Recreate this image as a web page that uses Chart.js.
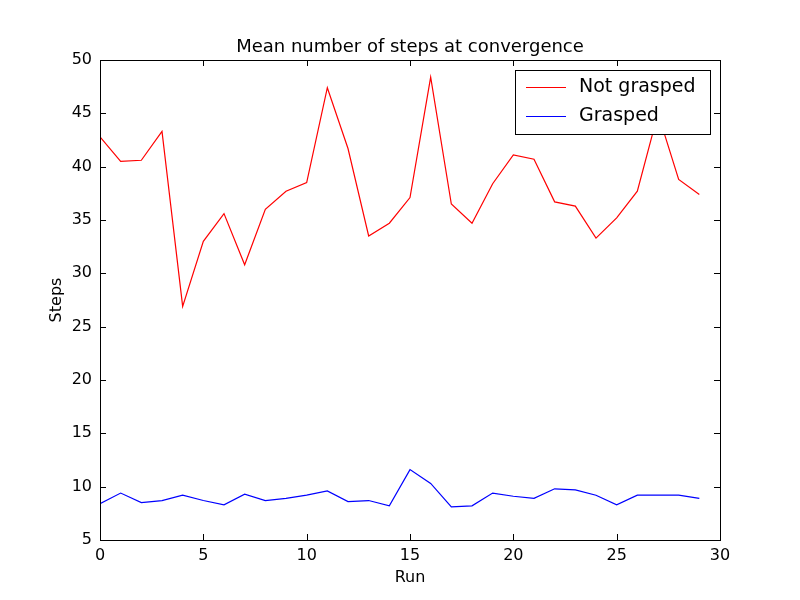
<!DOCTYPE html>
<html>
<head>
<script src="https://cdn.jsdelivr.net/npm/chart.js@4"></script>
<style>body{margin:0;background:#fff}#wrap{width:800px;height:600px}</style>
</head>
<body>
<div id="wrap"><canvas id="c" width="800" height="600"></canvas></div>
<script>
// Data
const runs = [...Array(30).keys()];
const notGrasped = [42.8,40.5,40.6,43.3,26.9,33.0,35.6,30.8,36.0,37.7,38.5,47.4,41.7,33.5,34.7,37.1,48.4,36.5,34.7,38.4,41.1,40.7,36.7,36.3,33.3,35.2,37.7,45.0,38.8,37.4];
const grasped = [8.4,9.4,8.5,8.7,9.2,8.7,8.3,9.3,8.7,8.9,9.2,9.6,8.6,8.7,8.2,11.6,10.3,8.1,8.2,9.4,9.1,8.9,9.8,9.7,9.2,8.3,9.2,9.2,9.2,8.9];
const FONT = 'DejaVu Sans';

// Frame, inward ticks, titles and legend like matplotlib classic
const decor = {
    id: 'decor',
    afterDraw(chart) {
        const ctx = chart.ctx, a = chart.chartArea;
        const xs = chart.scales.x, ys = chart.scales.y;
        ctx.save();
        ctx.strokeStyle = '#000';
        ctx.lineWidth = 1;
        ctx.strokeRect(a.left + 0.5, a.top + 0.5, a.right - a.left, a.bottom - a.top);
        ctx.beginPath();
        for (let v = 0; v <= 30; v += 5) {
            const p = Math.round(xs.getPixelForValue(v)) + 0.5;
            ctx.moveTo(p, a.bottom); ctx.lineTo(p, a.bottom - 6);
            ctx.moveTo(p, a.top); ctx.lineTo(p, a.top + 6);
        }
        for (let v = 5; v <= 50; v += 5) {
            const p = Math.round(ys.getPixelForValue(v)) + 0.5;
            ctx.moveTo(a.left, p); ctx.lineTo(a.left + 6, p);
            ctx.moveTo(a.right, p); ctx.lineTo(a.right - 6, p);
        }
        ctx.stroke();

        ctx.fillStyle = '#000';
        ctx.font = '18px ' + FONT;
        ctx.textAlign = 'center';
        ctx.textBaseline = 'bottom';
        ctx.fillText('Mean number of steps at convergence', (a.left + a.right) / 2, a.top - 4);

        ctx.font = '16px ' + FONT;
        ctx.textBaseline = 'middle';
        ctx.fillText('Run', (a.left + a.right) / 2, 578);
        ctx.save();
        ctx.translate(57, (a.top + a.bottom) / 2);
        ctx.rotate(-Math.PI / 2);
        ctx.fillText('Steps', 0, 0);
        ctx.restore();

        // legend
        const lx = 515, ly = 70, lw = 195, lh = 64;
        ctx.fillStyle = '#fff';
        ctx.fillRect(lx, ly, lw, lh);
        ctx.strokeRect(lx + 0.5, ly + 0.5, lw, lh);
        const items = [['Not grasped', 'red'], ['Grasped', 'blue']];
        ctx.font = '19px ' + FONT;
        ctx.textAlign = 'left';
        items.forEach((it, i) => {
            const y = ly + 17 + i * 29;
            ctx.strokeStyle = it[1];
            ctx.beginPath(); ctx.moveTo(lx + 11, y + 0.5); ctx.lineTo(lx + 51, y + 0.5); ctx.stroke();
            ctx.fillStyle = '#000';
            ctx.fillText(it[0], lx + 64, y);
        });
        ctx.restore();
    }
};

new Chart(document.getElementById('c'), {
    type: 'line',
    data: {
        datasets: [
            { label: 'Not grasped', data: runs.map((r, i) => ({ x: r, y: notGrasped[i] })), borderColor: 'red', borderWidth: 1.2, pointRadius: 0, tension: 0 },
            { label: 'Grasped', data: runs.map((r, i) => ({ x: r, y: grasped[i] })), borderColor: 'blue', borderWidth: 1.2, pointRadius: 0, tension: 0 }
        ]
    },
    options: {
        responsive: false,
        animation: false,
        layout: { padding: { top: 60, right: 80, left: 0, bottom: 0 } },
        plugins: { legend: { display: false }, tooltip: { enabled: false } },
        scales: {
            x: {
                type: 'linear', min: 0, max: 30,
                grid: { display: false, drawTicks: false },
                border: { display: false },
                ticks: { stepSize: 5, color: '#000', font: { family: FONT, size: 16 }, padding: 6, maxRotation: 0 },
                afterFit(s) { s.height = 60; }
            },
            y: {
                min: 5, max: 50,
                grid: { display: false, drawTicks: false },
                border: { display: false },
                ticks: { stepSize: 5, color: '#000', font: { family: FONT, size: 16 }, padding: 8 },
                afterFit(s) { s.width = 100; }
            }
        }
    },
    plugins: [decor]
});
</script>
</body>
</html>
